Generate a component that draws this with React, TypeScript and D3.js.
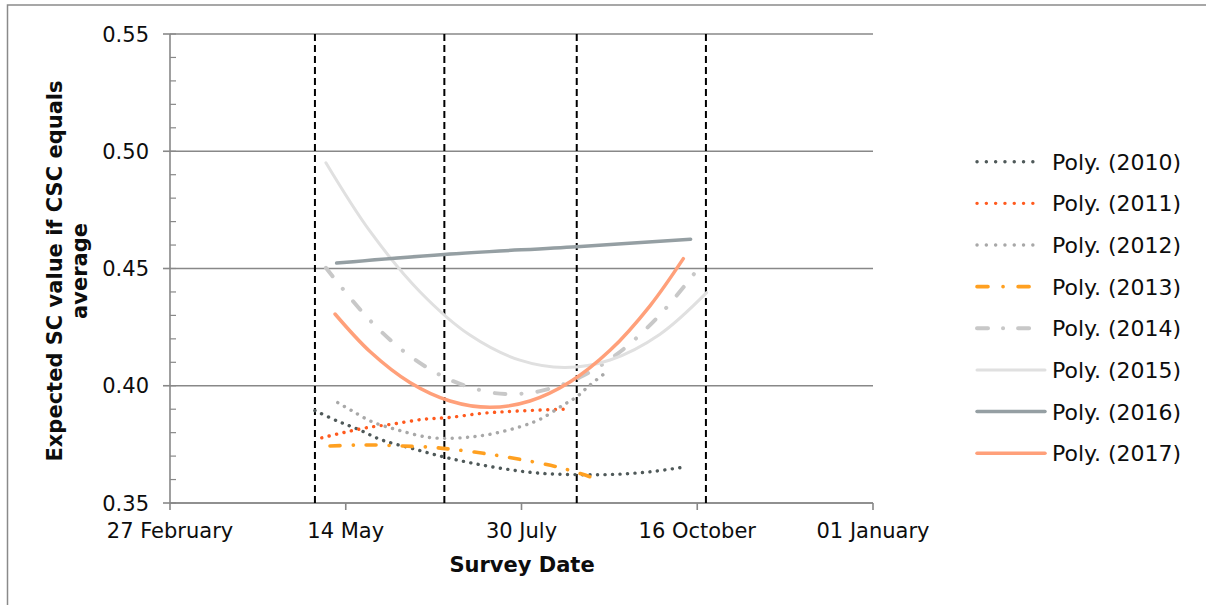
import * as d3 from 'd3';

// x is "days since 27 February" (axis runs 27 Feb .. 01 Jan)
const tickDays = [0, 77, 154, 231, 308];
const tickLabels = ['27 February', '14 May', '30 July', '16 October', '01 January'];
const yTicks = [0.35, 0.4, 0.45, 0.5, 0.55];
const markerDays = [63.5, 120.2, 178.2, 234.8];

const days2010 = [63.5, 73.0, 82.5, 92.7, 105.9, 119.7, 132.9, 147.5, 162.1, 178.2, 194.2, 210.3, 226.4];
const vals2010 = [0.3894, 0.3851, 0.3814, 0.3769, 0.3733, 0.3697, 0.3669, 0.3644, 0.3627, 0.3621, 0.3622, 0.3633, 0.3655];

const days2011 = [66.5, 75.9, 86.2, 97.8, 111.0, 122.7, 137.3, 151.9, 172.3];
const vals2011 = [0.3778, 0.38, 0.3821, 0.3837, 0.3857, 0.3865, 0.3883, 0.3892, 0.39];

const days2012 = [73.5, 79.6, 88.4, 100.0, 113.2, 123.4, 132.9, 140.2, 153.3, 162.1, 172.3, 178.2, 184.0, 192.0];
const vals2012 = [0.3928, 0.3894, 0.3847, 0.3811, 0.378, 0.3776, 0.3783, 0.3793, 0.3825, 0.3857, 0.3918, 0.3953, 0.4003, 0.4064];

const days2013 = [70.1, 81.8, 90.6, 102.2, 113.9, 122.7, 137.3, 153.3, 170.9, 184.0];
const vals2013 = [0.3743, 0.3747, 0.3747, 0.3743, 0.3738, 0.373, 0.3712, 0.3686, 0.3651, 0.3612];

const days2014 = [68.3, 87.6, 105.1, 122.7, 140.2, 149.8, 162.1, 179.6, 197.1, 214.7, 229.6];
const vals2014 = [0.4503, 0.4279, 0.4127, 0.4025, 0.3972, 0.3965, 0.3977, 0.4036, 0.4144, 0.4303, 0.4477];

const days2015 = [68.3, 87.6, 109.5, 131.4, 153.3, 173.1, 192.8, 214.7, 235.1];
const vals2015 = [0.4951, 0.4659, 0.4401, 0.4216, 0.4109, 0.4078, 0.411, 0.422, 0.4397];

const days2016 = [73.0, 120.0, 178.2, 228.1];
const vals2016 = [0.4523, 0.456, 0.4593, 0.4625];

const days2017 = [72.3, 87.6, 105.1, 122.7, 140.2, 157.7, 175.2, 192.8, 210.3, 224.9];
const vals2017 = [0.4306, 0.4146, 0.4014, 0.3935, 0.3908, 0.3935, 0.4016, 0.4151, 0.4341, 0.4542];

const series = [
  { name: 'Poly. (2010)', days: days2010, vals: vals2010, color: '#4f5959', width: 3.4, dash: '0.1 7.4', legendDash: '0.1 9.2' },
  { name: 'Poly. (2011)', days: days2011, vals: vals2011, color: '#ff5a1e', width: 3.4, dash: '0.1 7.5', legendDash: '0.1 9.2' },
  { name: 'Poly. (2012)', days: days2012, vals: vals2012, color: '#a8a8a8', width: 3.4, dash: '0.1 7.5', legendDash: '0.1 9.2' },
  { name: 'Poly. (2013)', days: days2013, vals: vals2013, color: '#ffa020', width: 3.6, dash: '10 13 0.1 13', legendDash: '11 15 0.1 15' },
  { name: 'Poly. (2014)', days: days2014, vals: vals2014, color: '#c8c8c8', width: 4, dash: '11 16 0.1 16', legendDash: '11 15 0.1 15' },
  { name: 'Poly. (2015)', days: days2015, vals: vals2015, color: '#e0e0e0', width: 3, dash: null, legendDash: null },
  { name: 'Poly. (2016)', days: days2016, vals: vals2016, color: '#959fa3', width: 3.5, dash: null, legendDash: null },
  { name: 'Poly. (2017)', days: days2017, vals: vals2017, color: '#ffa07a', width: 3.5, dash: null, legendDash: null },
];

const W = 1206;
const H = 605;
const left = 170;
const right = 873;
const top = 34;
const bottom = 503;
const font = '"DejaVu Sans", Verdana, sans-serif';
const ink = '#0d0d0d';

export default function App() {
  const x = d3.scaleLinear().domain([0, 308]).range([left, right]);
  const y = d3.scaleLinear().domain([0.35, 0.55]).range([bottom, top]);
  const minor = d3.range(0.35, 0.5501, 0.01);

  const line = (s: (typeof series)[number]) =>
    d3
      .line<number>()
      .x((_, i) => x(s.days[i]))
      .y((v) => y(v))
      .curve(d3.curveCatmullRom.alpha(0.5))(s.vals) ?? '';

  return (
    <svg
      width={W}
      height={H}
      viewBox={`0 0 ${W} ${H}`}
      style={{ position: 'absolute', left: 0, top: 0, background: '#fff' }}
      fontFamily={font}
    >
      {/* outer chart border */}
      <path d={`M7.5,${H} V5 H${W}`} fill="none" stroke="#8a8a8a" strokeWidth={1.5} />

      {/* gridlines */}
      {yTicks.map((t) => (
        <line key={t} x1={left} x2={right} y1={y(t)} y2={y(t)} stroke="#888" strokeWidth={1.6} />
      ))}

      {/* y axis */}
      <line x1={left} x2={left} y1={top} y2={bottom} stroke="#888" strokeWidth={1.6} />
      {minor.map((t) => (
        <line key={t} x1={left} x2={left + 6} y1={y(t)} y2={y(t)} stroke="#888" strokeWidth={1.2} />
      ))}
      {yTicks.map((t) => (
        <g key={t}>
          <line x1={left - 7} x2={left} y1={y(t)} y2={y(t)} stroke="#888" strokeWidth={1.6} />
          <text x={149} y={y(t) + 7.5} textAnchor="end" fontSize={21} fill={ink}>
            {t.toFixed(2)}
          </text>
        </g>
      ))}

      {/* x axis */}
      <line x1={left} x2={right} y1={bottom} y2={bottom} stroke="#888" strokeWidth={1.6} />
      {tickDays.map((d, i) => (
        <g key={d}>
          <line x1={x(d)} x2={x(d)} y1={bottom} y2={bottom + 7} stroke="#888" strokeWidth={1.6} />
          <text x={x(d)} y={538} textAnchor="middle" fontSize={21} fill={ink}>
            {tickLabels[i]}
          </text>
        </g>
      ))}

      {/* survey markers */}
      {markerDays.map((d) => (
        <line key={d} x1={x(d)} x2={x(d)} y1={top} y2={bottom} stroke="#000" strokeWidth={2} strokeDasharray="7 4" />
      ))}

      {/* trend curves */}
      {series.map((s) => (
        <path
          key={s.name}
          d={line(s)}
          fill="none"
          stroke={s.color}
          strokeWidth={s.width}
          strokeDasharray={s.dash ?? undefined}
          strokeLinecap="round"
        />
      ))}

      {/* axis titles */}
      <text transform="translate(62,271) rotate(-90)" textAnchor="middle" fontSize={21} fontWeight="bold" fill={ink}>
        Expected SC value if CSC equals
      </text>
      <text transform="translate(87,271) rotate(-90)" textAnchor="middle" fontSize={21} fontWeight="bold" fill={ink}>
        average
      </text>
      <text x={522} y={572} textAnchor="middle" fontSize={21} fontWeight="bold" fill={ink}>
        Survey Date
      </text>

      {/* legend */}
      {series.map((s, i) => {
        const ly = 161.7 + i * 41.65;
        return (
          <g key={s.name}>
            <line
              x1={977}
              x2={s.dash ? 1041 : 1045}
              y1={ly}
              y2={ly}
              stroke={s.color}
              strokeWidth={s.width}
              strokeDasharray={s.legendDash ?? undefined}
              strokeLinecap="round"
            />
            <text x={1052} y={ly + 8} fontSize={22} fill={ink}>
              {s.name}
            </text>
          </g>
        );
      })}
    </svg>
  );
}
